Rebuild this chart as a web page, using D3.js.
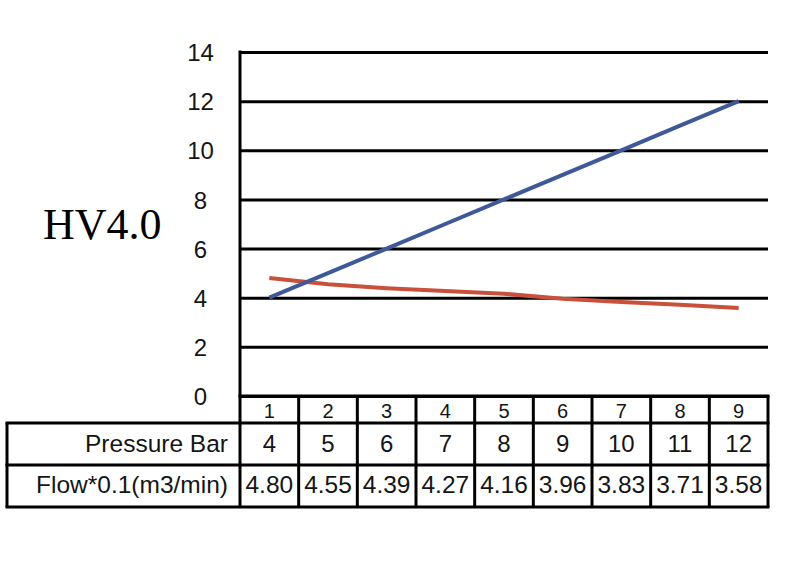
<!DOCTYPE html>
<html>
<head>
<meta charset="utf-8">
<script src="https://cdn.jsdelivr.net/npm/d3@7"></script>
<style>
  html, body { margin: 0; padding: 0; background: #fff; }
  svg { display: block; }
</style>
</head>
<body>
<svg id="chart" width="800" height="571"></svg>
<script>
const title = "HV4.0";
const categories = [1, 2, 3, 4, 5, 6, 7, 8, 9];
const pressure = [4, 5, 6, 7, 8, 9, 10, 11, 12];
const flow = [4.80, 4.55, 4.39, 4.27, 4.16, 3.96, 3.83, 3.71, 3.58];
const flowLabels = ["4.80", "4.55", "4.39", "4.27", "4.16", "3.96", "3.83", "3.71", "3.58"];
const yTicks = [0, 2, 4, 6, 8, 10, 12, 14];
const rowLabels = ["Pressure Bar", "Flow*0.1(m3/min)"];

const svg = d3.select("#chart");
const plotLeft = 240, plotRight = 768, plotTop = 52, plotBottom = 396;
const tableLeft = 7;
const rowEdges = [396, 423, 465, 507];

const x = d3.scaleBand().domain(categories).range([plotLeft, plotRight]);
const y = d3.scaleLinear().domain([0, 14]).range([plotBottom, plotTop]);
const cx = d => x(d) + x.bandwidth() / 2;

const font = "Liberation Sans, Arial, sans-serif";

// Y axis with gridlines
const yAxis = svg.append("g")
  .attr("transform", `translate(${plotLeft},0)`)
  .call(d3.axisLeft(y).tickValues(yTicks).tickSize(-(plotRight - plotLeft)).tickPadding(0).tickFormat(d3.format("d")));
yAxis.select(".domain").remove();
yAxis.selectAll(".tick line").attr("stroke", "#000").attr("stroke-width", 3);
yAxis.selectAll(".tick text")
  .attr("x", -39.5)
  .attr("text-anchor", "middle")
  .attr("font-family", font)
  .attr("font-size", 24)
  .attr("fill", "#151515")
  .attr("dy", "0.36em");

svg.append("line")
  .attr("x1", plotLeft).attr("x2", plotLeft).attr("y1", plotTop - 1.5).attr("y2", plotBottom)
  .attr("stroke", "#000").attr("stroke-width", 3);

// Title
svg.append("text")
  .attr("x", 43).attr("y", 239)
  .attr("font-family", "Liberation Serif, Times New Roman, serif")
  .attr("font-size", 44)
  .attr("fill", "#000")
  .text(title);

// Series lines
const line = d3.line().x((d, i) => cx(categories[i])).y(d => y(d));
svg.append("path").datum(flow)
  .attr("d", line).attr("fill", "none")
  .attr("stroke", "#c9503b").attr("stroke-width", 4);
svg.append("path").datum(pressure)
  .attr("d", line).attr("fill", "none")
  .attr("stroke", "#3f5997").attr("stroke-width", 4);

// Table
const tbl = svg.append("g").attr("stroke", "#000").attr("stroke-width", 3);
tbl.append("line").attr("x1", plotLeft - 1.5).attr("x2", plotRight + 1.5).attr("y1", rowEdges[0]).attr("y2", rowEdges[0]);
[rowEdges[1], rowEdges[2], rowEdges[3]].forEach(yy => {
  tbl.append("line").attr("x1", tableLeft - 1.5).attr("x2", plotRight + 1.5).attr("y1", yy).attr("y2", yy);
});
tbl.append("line").attr("x1", tableLeft).attr("x2", tableLeft).attr("y1", rowEdges[1]).attr("y2", rowEdges[3]);
const colEdges = categories.map(c => x(c)).concat([plotRight]);
colEdges.forEach(xx => {
  tbl.append("line").attr("x1", xx).attr("x2", xx).attr("y1", rowEdges[0]).attr("y2", rowEdges[3]);
});

svg.append("g").selectAll("text").data(categories).join("text")
  .attr("x", d => cx(d)).attr("y", 418)
  .attr("text-anchor", "middle").attr("font-family", font).attr("font-size", 20).attr("fill", "#151515")
  .text(d => d);
svg.append("g").selectAll("text").data(pressure).join("text")
  .attr("x", (d, i) => cx(categories[i])).attr("y", 452)
  .attr("text-anchor", "middle").attr("font-family", font).attr("font-size", 24).attr("fill", "#151515")
  .text(d => d);
svg.append("g").selectAll("text").data(flowLabels).join("text")
  .attr("x", (d, i) => cx(categories[i])).attr("y", 493)
  .attr("text-anchor", "middle").attr("font-family", font).attr("font-size", 24.5).attr("fill", "#151515")
  .text(d => d);
svg.append("g").selectAll("text").data(rowLabels).join("text")
  .attr("x", 228).attr("y", (d, i) => [452, 493][i])
  .attr("text-anchor", "end").attr("font-family", font).attr("font-size", 24.5).attr("fill", "#151515")
  .text(d => d);
</script>
</body>
</html>
